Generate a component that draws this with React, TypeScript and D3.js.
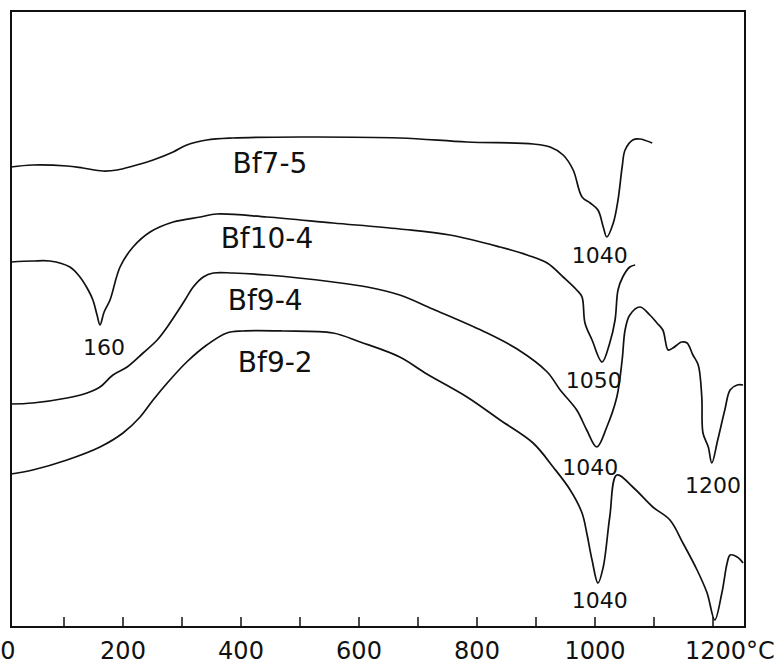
import React from "react";
import * as d3 from "d3";

// DTA curves, temperature in °C, signal in arbitrary units (higher = up)
const bf75T = [10, 47, 105, 132, 166, 190, 217, 251, 285, 308, 342, 386, 500, 669, 783, 895, 924, 946, 963, 978, 992, 1005, 1014, 1020, 1031, 1039, 1046, 1051, 1064, 1076, 1097];
const bf75V = [460, 462, 461, 459, 456, 457, 461, 467, 475, 482, 487, 489, 490, 489, 485, 483, 480, 472, 457, 430, 424, 417, 400, 390, 404, 427, 460, 477, 487, 488, 484];

const bf104T = [10, 47, 76, 110, 127, 141, 149, 156, 161, 168, 178, 195, 217, 246, 285, 331, 359, 444, 556, 669, 754, 839, 885, 919, 946, 969, 978, 983, 995, 1012, 1025, 1034, 1039, 1047, 1059, 1068];
const bf104V = [365, 366, 366, 360, 350, 337, 327, 312, 302, 315, 327, 360, 380, 395, 405, 410, 413, 410, 404, 398, 392, 380, 372, 364, 350, 337, 330, 304, 287, 265, 284, 307, 337, 350, 360, 362];

const bf94T = [10, 47, 105, 139, 161, 183, 207, 234, 258, 275, 292, 305, 319, 336, 353, 386, 444, 556, 614, 669, 725, 810, 868, 919, 941, 969, 986, 1003, 1020, 1037, 1046, 1051, 1059, 1076, 1093, 1105, 1115, 1124, 1132, 1147, 1156, 1166, 1175, 1181, 1183, 1192, 1198, 1208, 1220, 1229, 1241, 1251];
const bf94V = [223, 224, 229, 234, 240, 252, 260, 274, 287, 300, 315, 327, 340, 350, 354, 354, 352, 345, 340, 332, 318, 296, 278, 255, 237, 217, 197, 180, 200, 230, 267, 297, 312, 320, 312, 304, 297, 277, 279, 285, 284, 272, 262, 230, 194, 180, 164, 187, 217, 237, 242, 242];

const bf92T = [10, 47, 105, 161, 200, 229, 251, 275, 308, 342, 376, 403, 471, 556, 602, 669, 715, 783, 839, 895, 929, 958, 978, 986, 995, 1005, 1014, 1025, 1037, 1064, 1098, 1127, 1149, 1173, 1190, 1203, 1215, 1224, 1229, 1241, 1251];
const bf92V = [153, 157, 167, 180, 194, 210, 227, 244, 265, 282, 294, 296, 296, 294, 285, 270, 253, 230, 207, 184, 160, 137, 114, 94, 67, 44, 60, 110, 152, 140, 120, 107, 84, 57, 34, 7, 34, 64, 72, 70, 64];

const seriesNames = ["Bf7-5", "Bf10-4", "Bf9-4", "Bf9-2"];
const tickValues = [0, 200, 400, 600, 800, 1000, 1200];
const minorTicks = [100, 200, 300, 400, 500, 600, 700, 800, 900, 1000, 1100, 1200];
const peakLabels = ["1040", "160", "1050", "1040", "1200", "1040"];

const W = 781;
const H = 666;
const frame = { left: 11, top: 11, right: 745, bottom: 627 };

export default function App() {
  const x = d3.scaleLinear().domain([0, 1200]).range([5, 713]);
  const y = d3.scaleLinear().domain([0, 616]).range([frame.bottom, frame.top]);

  const line = d3
    .line<[number, number]>()
    .x((d) => x(d[0]))
    .y((d) => y(d[1]))
    .curve(d3.curveCatmullRom.alpha(0.5));

  const curves = [
    d3.zip(bf75T, bf75V),
    d3.zip(bf104T, bf104V),
    d3.zip(bf94T, bf94V),
    d3.zip(bf92T, bf92V),
  ] as [number, number][][];

  // label anchors (T, v)
  const nameAt = [
    [449, 454],
    [444, 379],
    [441, 317],
    [458, 255],
  ];
  const peakAt = [
    [1008, 364],
    [168, 272],
    [998, 239],
    [992, 152],
    [1200, 134],
    [1008, 19],
  ];

  const font = "'DejaVu Sans', sans-serif";

  const tickX = (t: number) => {
    if (t === 0) return 8;
    if (t === 1200) return x(t) - 28;
    return x(t);
  };

  return (
    <svg width={W} height={H} style={{ position: "absolute", left: 0, top: 0, background: "#fff" }}>
      <rect
        x={frame.left}
        y={frame.top}
        width={frame.right - frame.left}
        height={frame.bottom - frame.top}
        fill="none"
        stroke="#111"
        strokeWidth={2}
      />
      {minorTicks.map((t) => (
        <line key={t} x1={x(t)} x2={x(t)} y1={frame.bottom} y2={frame.bottom - 10} stroke="#111" strokeWidth={1.5} />
      ))}
      {tickValues.map((t) => (
        <text
          key={t}
          x={tickX(t)}
          y={659}
          textAnchor={t === 1200 ? "start" : "middle"}
          fontFamily={font}
          fontSize={24}
          fill="#111"
        >
          {t === 1200 ? "1200°C" : String(t)}
        </text>
      ))}
      {curves.map((c, i) => (
        <path key={i} d={line(c) || ""} fill="none" stroke="#111" strokeWidth={1.7} strokeLinejoin="round" />
      ))}
      {seriesNames.map((n, i) => (
        <text
          key={n}
          x={x(nameAt[i][0])}
          y={y(nameAt[i][1])}
          textAnchor="middle"
          fontFamily={font}
          fontSize={28}
          fill="#111"
        >
          {n}
        </text>
      ))}
      {peakLabels.map((p, i) => (
        <text
          key={i}
          x={x(peakAt[i][0])}
          y={y(peakAt[i][1])}
          textAnchor="middle"
          fontFamily={font}
          fontSize={22}
          fill="#111"
        >
          {p}
        </text>
      ))}
    </svg>
  );
}
